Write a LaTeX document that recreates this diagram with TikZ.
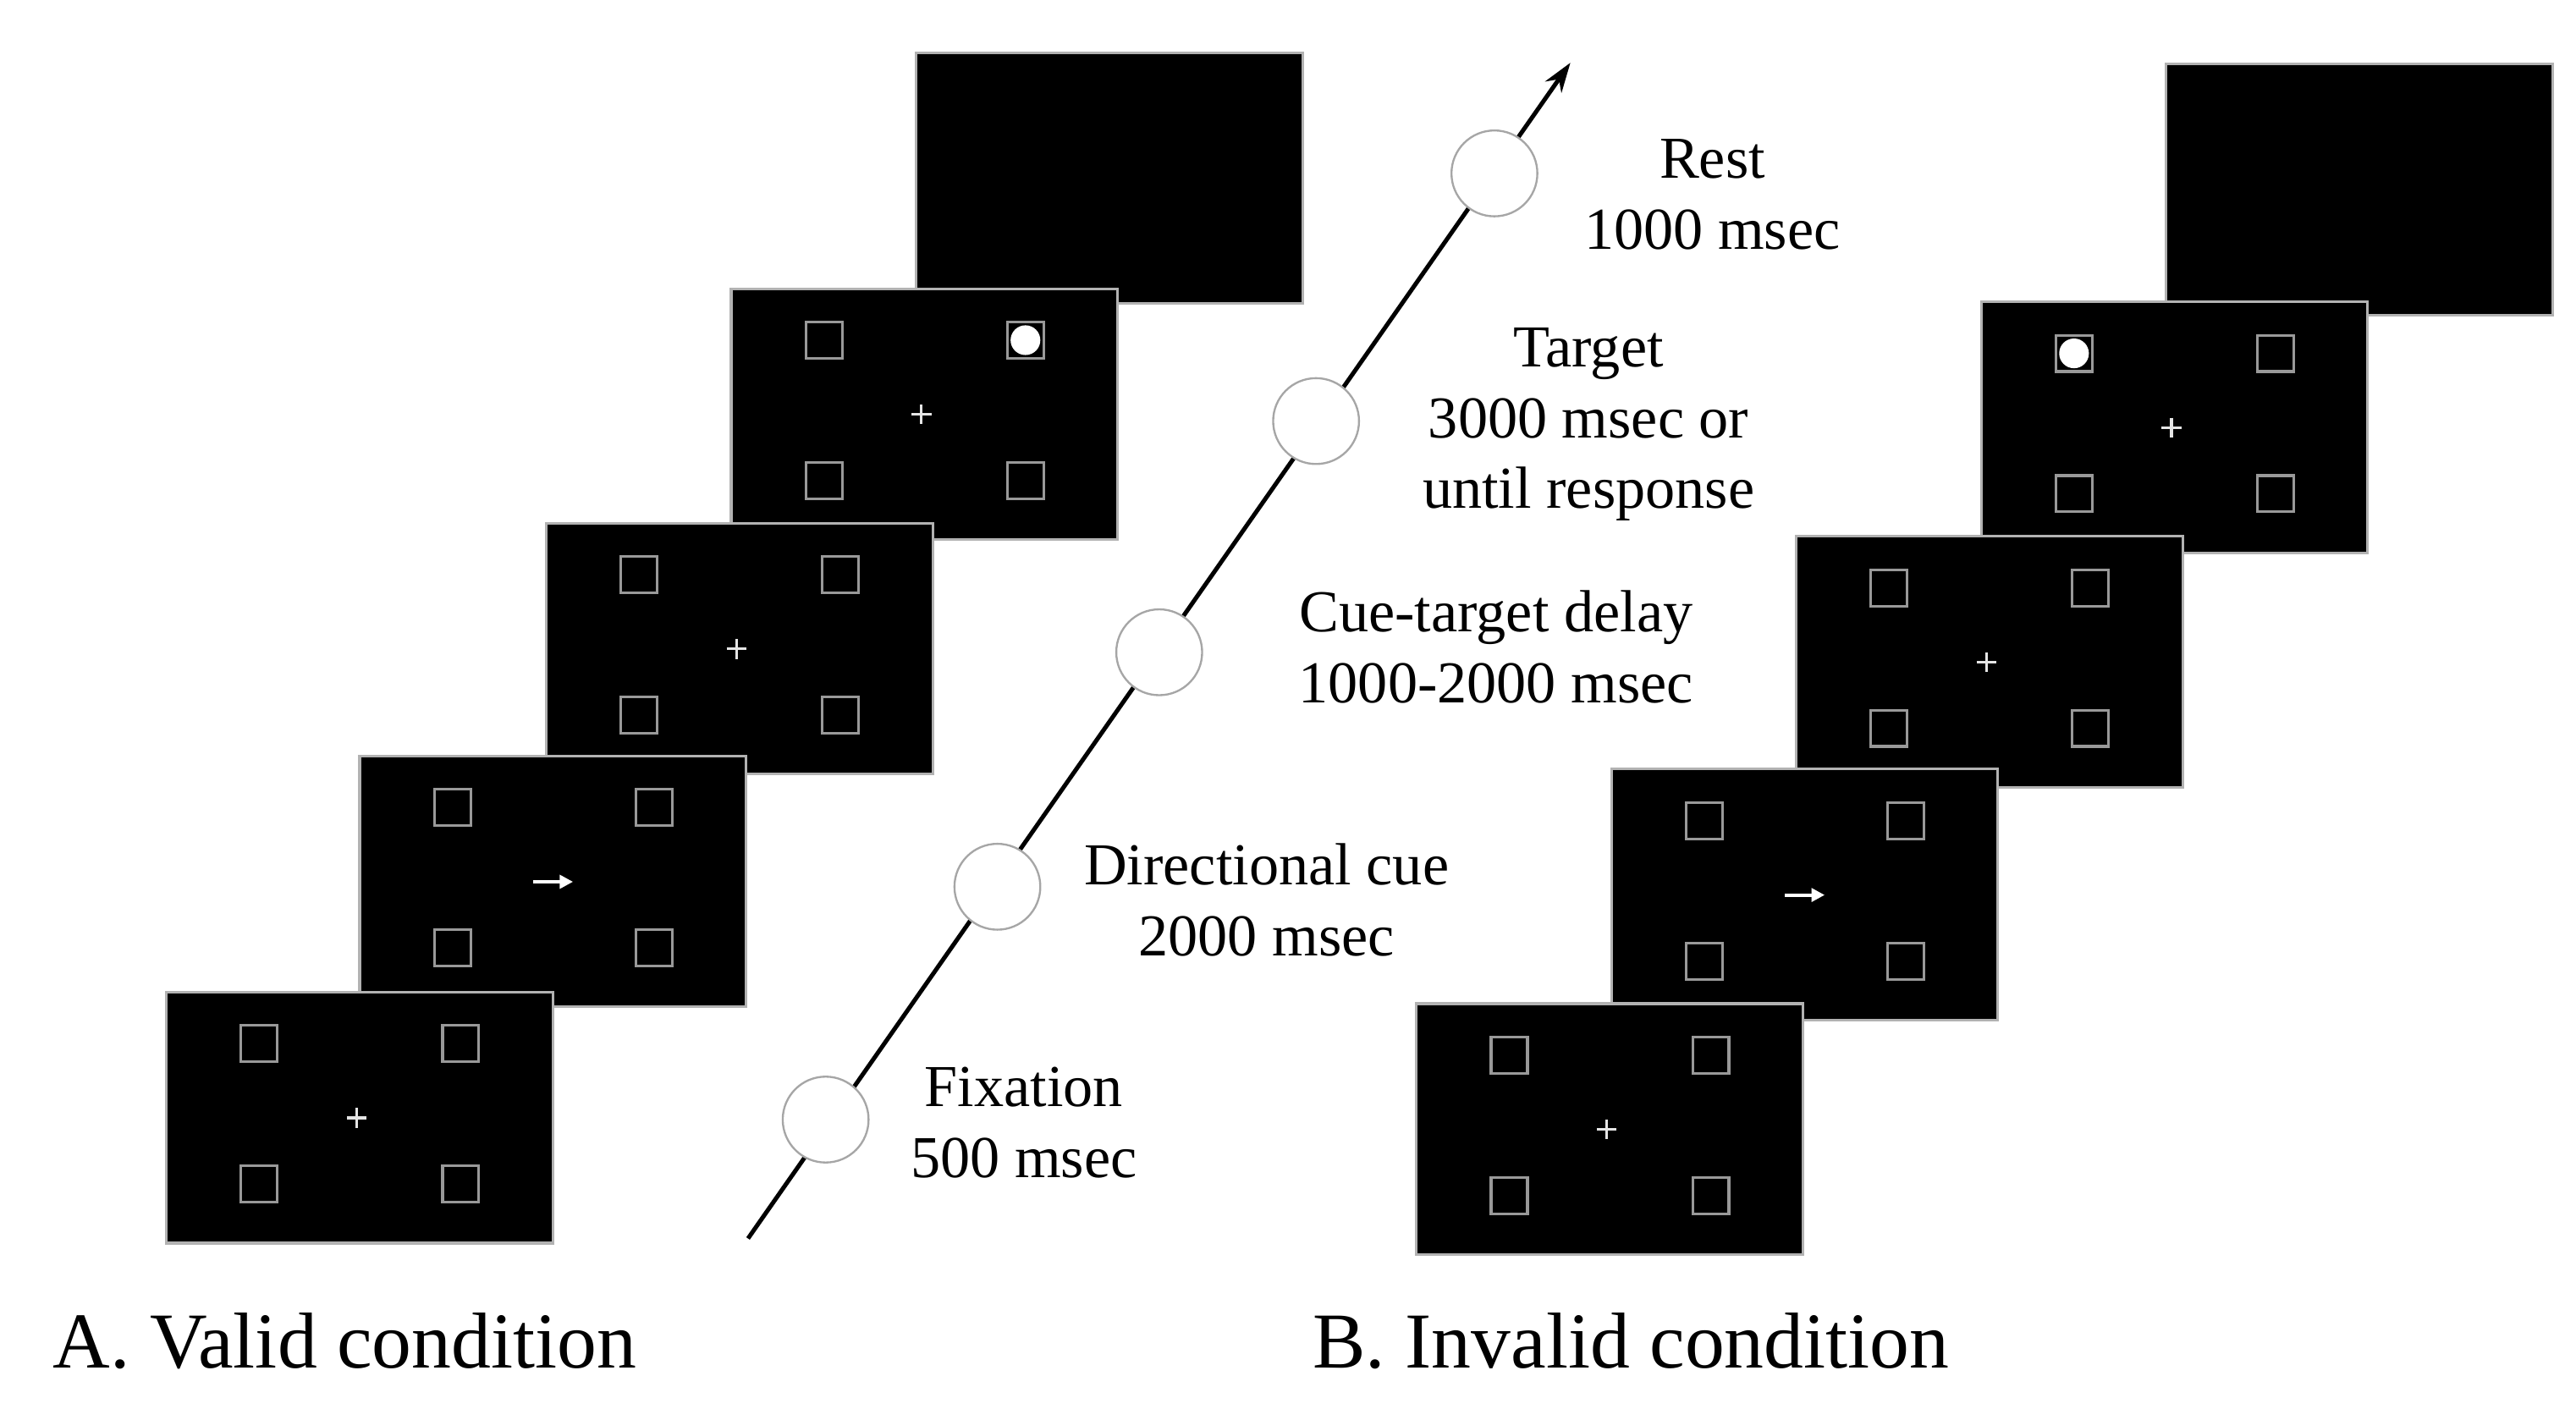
\documentclass[tikz,border=0pt]{standalone}
\usepackage{fontspec}
\setmainfont{Liberation Serif}
\usetikzlibrary{arrows.meta}
\begin{document}
\begin{tikzpicture}[x=0.5pt,y=-0.5pt,
  scr/.style={fill=black,draw=gray!60,line width=0.8pt},
  box/.style={draw=gray!80,line width=0.8pt},
  tick/.style={draw=white!80!gray,line width=0.8pt},
  stage/.style={circle,draw=gray!70,fill=white,line width=0.6pt,minimum size=26pt,inner sep=0pt},
  lab/.style={font=\fontsize{18}{21.5}\selectfont,align=center},
  cond/.style={font=\fontsize{24}{28}\selectfont,anchor=west}]
\useasboundingbox (0,0) rectangle (1560,853);
% screen macro
\newcommand{\myscreen}[4]{% x,y,type(0 fix,1 cue,2 target-right,3 target-left,4 blank),name
  \begin{scope}[shift={(#1,#2)}]
    \node[scr,minimum width=117pt,minimum height=76pt,inner sep=0pt,anchor=north west] (#4) at (0,0) {};
    \ifnum#3<4
      \foreach \cx/\cy in {57/32,179/32,57/117,179/117}{\draw[box] (\cx-11,\cy-11) rectangle (\cx+11,\cy+11);}
      \ifnum#3=1
        \draw[white,line width=1pt,-{Triangle[length=4pt,width=4pt]}] (106,77) -- (130,77);
      \else
        \draw[tick] (110,77) -- (122,77); \draw[tick] (116,71) -- (116,83);
      \fi
      \ifnum#3=2 \fill[white] (179,32) circle (4.5pt); \fi
      \ifnum#3=3 \fill[white] (57,32) circle (4.5pt); \fi
    \fi
  \end{scope}}
% valid
\myscreen{554}{31}{4}{a5}
\myscreen{442}{174}{2}{a4}
\myscreen{330}{316}{0}{a3}
\myscreen{217}{457}{1}{a2}
\myscreen{100}{600}{0}{a1}
% invalid
\myscreen{1311}{38}{4}{b5}
\myscreen{1199}{182}{3}{b4}
\myscreen{1087}{324}{0}{b3}
\myscreen{975}{465}{1}{b2}
\myscreen{857}{607}{0}{b1}
% timeline
\coordinate (t0) at (453,750);
\coordinate (t1) at (951,38);
\draw[line width=1.3pt,-{Stealth[length=9pt,width=6pt]}] (t0) -- (t1);
\node[stage] (c1) at (500,678) {};
\node[stage] (c2) at (604,537) {};
\node[stage] (c3) at (702,395) {};
\node[stage] (c4) at (797,255) {};
\node[stage] (c5) at (905,105) {};
\node[lab] (l1) at (620,680) {Fixation\\500 msec};
\node[lab] (l2) at (767,545) {Directional cue\\2000 msec};
\node[lab] (l3) at (906,392) {Cue-target delay\\1000-2000 msec};
\node[lab] (l4) at (962,257) {Target\\3000 msec or\\until response};
\node[lab] (l5) at (1037,118) {Rest\\1000 msec};
\node[cond] (A) at (25,812) {A. Valid condition};
\node[cond] (B) at (788,812) {B. Invalid condition};
\end{tikzpicture}
\end{document}
